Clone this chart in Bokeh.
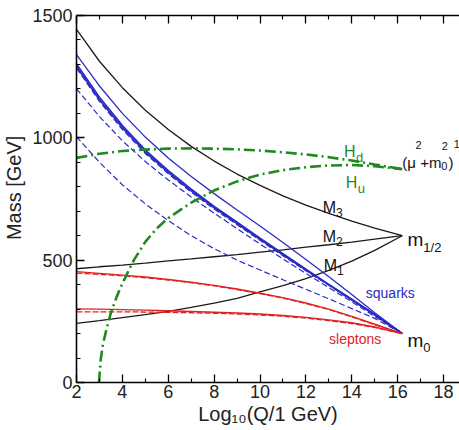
from bokeh.plotting import figure
from bokeh.models import Range1d, FixedTicker, LinearAxis, Label
from bokeh.embed import file_html
from bokeh.resources import INLINE

FONT = "Liberation Sans"

# ---- data ----
logq = [2, 3, 4, 5, 6, 7, 8, 9, 10, 11, 12, 13, 14, 15, 16.2]

M3 = [1443, 1313, 1205, 1113, 1034, 965, 905, 852, 806, 763, 725, 691, 660, 631, 600]
M2 = [465, 473, 480, 488, 497, 505, 514, 523, 533, 542, 553, 563, 574, 586, 600]
M1 = [242, 253, 265, 277, 291, 307, 324, 344, 370, 396, 425, 458, 496, 540, 600]

sq_a = [1340, 1212, 1100, 1003, 918, 842, 772, 705, 640, 572, 503, 432, 360, 285, 200]
sq_b1 = [1302, 1166, 1050, 950, 866, 790, 720, 655, 590, 526, 463, 401, 340, 278, 200]
sq_b2 = [1292, 1156, 1041, 942, 859, 783, 714, 650, 585, 522, 460, 399, 338, 277, 200]
sq_c = [1285, 1149, 1034, 936, 853, 778, 709, 645, 581, 518, 457, 397, 336, 276, 200]
sq_d = [1201, 1087, 988, 903, 828, 758, 692, 629, 566, 505, 446, 388, 330, 270, 200]
sq_e = [1005, 900, 808, 730, 662, 600, 547, 500, 460, 420, 381, 342, 302, 262, 200]

sl_l = [453, 446, 439, 431, 421, 410, 397, 382, 365, 347, 325, 300, 270, 238, 200]
sl_l_d = [447, 442, 436, 428, 419, 408, 395, 380, 363, 345, 323, 298, 268, 236, 200]
sl_r = [301, 300, 298, 296, 293, 290, 287, 284, 280, 274, 266, 256, 244, 227, 200]
sl_r_d = [289, 289, 289, 288, 287, 285, 283, 280, 276, 271, 263, 253, 241, 225, 200]

hd = [918, 935, 946, 952, 956, 957, 956, 953, 948, 941, 932, 921, 907, 891, 872]
hu_x = [2.98, 3.05, 3.15, 3.3, 3.5, 3.75, 4.0, 4.5, 5, 5.5, 6, 7, 8, 9, 10, 11, 12, 13, 14, 15, 16.2]
hu = [0, 90, 155, 215, 285, 350, 405, 500, 575, 630, 672, 735, 785, 822, 850, 868, 880, 887, 889, 884, 872]

x_major = [2, 4, 6, 8, 10, 12, 14, 16, 18]
x_minor = [3, 5, 7, 9, 11, 13, 15, 17]
y_major = [0, 500, 1000, 1500]
y_minor = [100, 200, 300, 400, 600, 700, 800, 900, 1100, 1200, 1300, 1400]

BLACK = "#1a1a1a"
BLUE = "#2a2ac4"
RED = "#e02222"
GREEN = "#1f8a1f"

p = figure(width=459, height=430, x_range=Range1d(2, 18.696), y_range=Range1d(0, 1500),
           output_backend="svg", toolbar_location=None,
           min_border_left=75, min_border_right=0, min_border_top=15, min_border_bottom=48)
p.grid.visible = False
p.outline_line_color = None
p.background_fill_color = "white"
p.border_fill_color = "white"

def style_axis(ax):
    ax.axis_line_color = "black"
    ax.axis_line_width = 1.6
    ax.major_tick_in = 8
    ax.major_tick_out = 0
    ax.minor_tick_in = 4
    ax.minor_tick_out = 0
    ax.major_tick_line_width = 1.3
    ax.minor_tick_line_width = 1.1
    ax.major_tick_line_color = "black"
    ax.minor_tick_line_color = "black"
    ax.major_label_text_font = FONT
    ax.major_label_text_color = "#222222"
    ax.axis_label_text_font = FONT
    ax.axis_label_text_font_style = "normal"
    ax.axis_label_text_color = "#222222"

p.xaxis.ticker = FixedTicker(ticks=x_major, minor_ticks=x_minor)
p.yaxis.ticker = FixedTicker(ticks=y_major, minor_ticks=y_minor)
style_axis(p.xaxis[0])
style_axis(p.yaxis[0])
p.xaxis.major_label_text_font_size = "18px"
p.yaxis.major_label_text_font_size = "18px"
p.xaxis.major_label_standoff = 2
p.yaxis.major_label_standoff = 4
p.xaxis.axis_label = "Log\u2081\u2080(Q/1 GeV)"
p.xaxis.axis_label_text_font_size = "20px"
p.xaxis.axis_label_standoff = 2
p.yaxis.axis_label = "\u00a0\u00a0\u00a0\u00a0\u00a0Mass  [GeV]"
p.yaxis.axis_label_text_font_size = "20px"
p.yaxis.axis_label_standoff = 4

top = LinearAxis(ticker=FixedTicker(ticks=x_major, minor_ticks=x_minor))
style_axis(top)
top.major_label_overrides = {t: "" for t in x_major}
top.major_label_standoff = 0
top.major_label_text_font_size = "1px"
p.add_layout(top, "above")

# gauginos
for arr in (M3, M2, M1):
    p.line(logq, arr, line_color=BLACK, line_width=1.3)

# squarks
p.line(logq, sq_a, line_color=BLUE, line_width=1.3)
for arr in (sq_b1, sq_b2):
    p.line(logq, arr, line_color=BLUE, line_width=1.7)
for arr in (sq_c, sq_d, sq_e):
    p.line(logq, arr, line_color=BLUE, line_width=1.2, line_dash="6 3")

# sleptons
for arr in (sl_l, sl_r):
    p.line(logq, arr, line_color=RED, line_width=1.4)
for arr in (sl_l_d, sl_r_d):
    p.line(logq, arr, line_color=RED, line_width=1.3, line_dash="6 2")

# Higgs
p.line(logq, hd, line_color=GREEN, line_width=2.6, line_dash="11 4 2 4")
p.line(hu_x, hu, line_color=GREEN, line_width=2.6, line_dash="11 4 2 4")

def lab(x, y, t, size, color="#111111", align="left", baseline="alphabetic"):
    p.add_layout(Label(x=x, y=y, text=t, text_font=FONT, text_font_size=size,
                       text_color=color, text_align=align, text_baseline=baseline))

# gaugino labels
lab(12.73, 715, "M", "16px"); lab(13.31, 693, "3", "12px")
lab(12.73, 598, "M", "16px"); lab(13.31, 576, "2", "12px")
lab(12.78, 478, "M", "16px"); lab(13.36, 456, "1", "12px")

lab(16.43, 584, "m", "19px"); lab(17.12, 552, "1/2", "13px")
lab(16.43, 172, "m", "19px"); lab(17.12, 143, "0", "13px")

lab(14.61, 364, "squarks", "14px", color=BLUE)
lab(13.01, 176, "sleptons", "14px", color=RED)

lab(13.66, 945, "H", "16px", color=GREEN); lab(14.18, 918, "d", "13px", color=GREEN)
lab(13.74, 819, "H", "16px", color=GREEN); lab(14.26, 793, "u", "13px", color=GREEN)

lab(16.2, 900, "(\u03bc", "15px"); lab(16.78, 969, "2", "11px")
lab(16.98, 900, "+m", "15px"); lab(17.90, 883, "0", "11px")
lab(17.92, 965, "2", "11px"); lab(18.22, 900, ")", "15px")
lab(18.44, 973, "1/2", "11px")

open("out.html", "w").write(file_html(p, INLINE))
